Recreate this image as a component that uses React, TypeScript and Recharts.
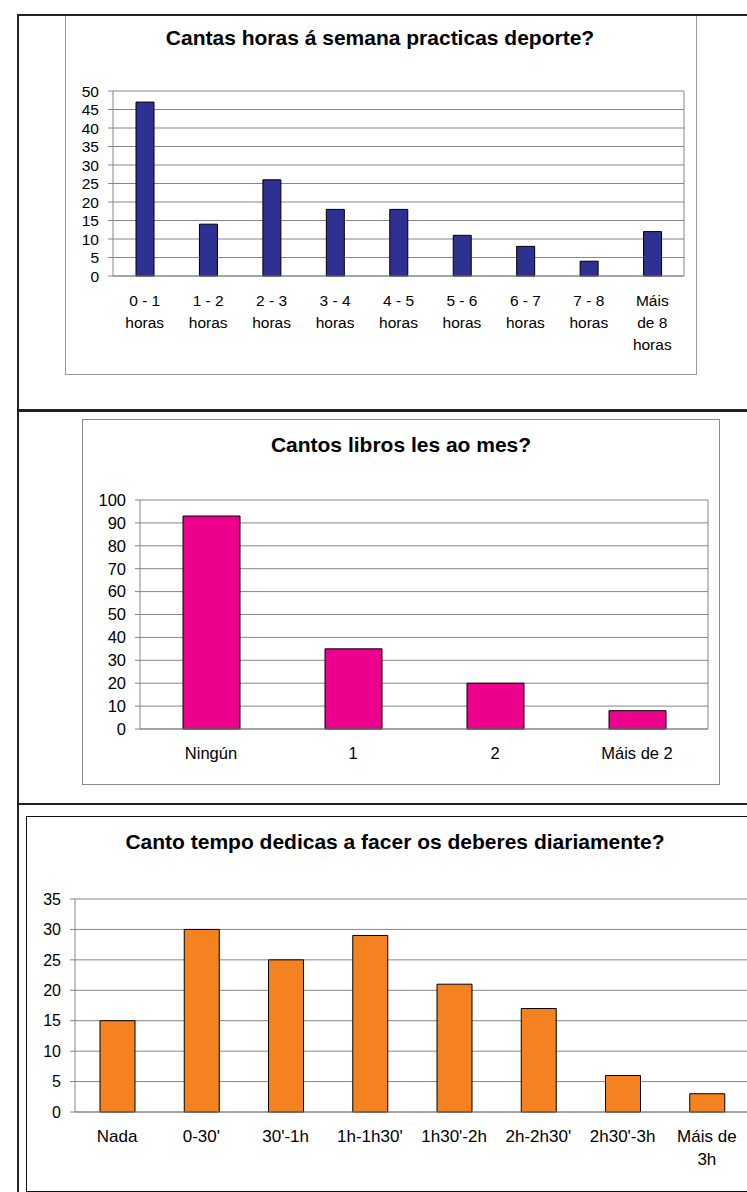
import React from "react";
import { BarChart, Bar, XAxis, YAxis, CartesianGrid } from "recharts";

// ---- Chart 1: sport hours per week
const sportCategories = [
  "0 - 1\nhoras",
  "1 - 2\nhoras",
  "2 - 3\nhoras",
  "3 - 4\nhoras",
  "4 - 5\nhoras",
  "5 - 6\nhoras",
  "6 - 7\nhoras",
  "7 - 8\nhoras",
  "Máis\nde 8\nhoras",
];
const sportValues = [47, 14, 26, 18, 18, 11, 8, 4, 12];
const sportTicks = [0, 5, 10, 15, 20, 25, 30, 35, 40, 45, 50];
const sportTitle = "Cantas horas á semana practicas deporte?";

// ---- Chart 2: books per month
const bookCategories = ["Ningún", "1", "2", "Máis de 2"];
const bookValues = [93, 35, 20, 8];
const bookTicks = [0, 10, 20, 30, 40, 50, 60, 70, 80, 90, 100];
const bookTitle = "Cantos libros les ao mes?";

// ---- Chart 3: homework time per day
const homeworkCategories = [
  "Nada",
  "0-30'",
  "30'-1h",
  "1h-1h30'",
  "1h30'-2h",
  "2h-2h30'",
  "2h30'-3h",
  "Máis de\n3h",
];
const homeworkValues = [15, 30, 25, 29, 21, 17, 6, 3];
const homeworkTicks = [0, 5, 10, 15, 20, 25, 30, 35];
const homeworkTitle = "Canto tempo dedicas a facer os deberes diariamente?";

const FONT = '"Liberation Sans", Arial, sans-serif';
const GRID = "#868686";

function CatTick(props: any) {
  const { x, y, payload, lineHeight, firstDy, fontSize } = props;
  const lines = String(payload.value).split("\n");
  return (
    <text x={x} y={y} textAnchor="middle" fontSize={fontSize} fill="#000" fontFamily={FONT}>
      {lines.map((l: string, i: number) => (
        <tspan key={i} x={x} dy={i === 0 ? firstDy : lineHeight}>
          {l}
        </tspan>
      ))}
    </text>
  );
}

type PanelProps = {
  categories: string[];
  values: number[];
  ticks: number[];
  color: string;
  width: number;
  height: number;
  margin: { top: number; right: number; bottom: number; left: number };
  yWidth: number;
  xHeight: number;
  barSize: number;
  lineHeight: number;
  rightBorder: boolean;
  xFont: number;
  yFont: number;
};

function Panel(p: PanelProps) {
  const data = p.categories.map((c, i) => ({ name: c, value: p.values[i], pos: i + 0.5 }));
  const bounds = p.categories.map((_, i) => i).concat([p.categories.length]);
  const max = p.ticks[p.ticks.length - 1];
  return (
    <BarChart width={p.width} height={p.height} data={data} margin={p.margin} barCategoryGap={0}>
      <CartesianGrid
        stroke={GRID}
        vertical={p.rightBorder}
        verticalCoordinatesGenerator={(args: any) => [args.offset.left + args.offset.width]}
      />
      <XAxis
        xAxisId="bounds"
        type="number"
        dataKey="pos"
        domain={[0, p.categories.length]}
        ticks={bounds}
        height={0}
        axisLine={false}
        tickLine={{ stroke: GRID }}
        tickSize={6}
        tickFormatter={() => ""}
        interval={0}
      />
      <XAxis
        xAxisId="cat"
        dataKey="name"
        height={p.xHeight}
        axisLine={{ stroke: GRID }}
        tickLine={false}
        tickSize={0}
        tickMargin={0}
        interval={0}
        tick={<CatTick lineHeight={p.lineHeight} firstDy={30} fontSize={p.xFont} />}
      />
      <YAxis
        domain={[0, max]}
        ticks={p.ticks}
        width={p.yWidth}
        axisLine={{ stroke: GRID }}
        tickLine={{ stroke: GRID }}
        tickSize={5}
        tickMargin={9}
        interval={0}
        tick={{ fontSize: p.yFont, fill: "#000", fontFamily: FONT }}
      />
      <Bar
        xAxisId="cat"
        dataKey="value"
        fill={p.color}
        stroke="#000"
        strokeWidth={1}
        barSize={p.barSize}
        isAnimationActive={false}
      />
    </BarChart>
  );
}

const abs = (s: React.CSSProperties): React.CSSProperties => ({ position: "absolute", ...s });

function Title({ text, cx, top }: { text: string; cx: number; top: number }) {
  return (
    <div
      style={abs({
        left: cx - 350,
        width: 700,
        top,
        textAlign: "center",
        fontFamily: FONT,
        fontWeight: "bold",
        fontSize: 21,
        lineHeight: "22px",
        color: "#000",
        whiteSpace: "nowrap",
      })}
    >
      {text}
    </div>
  );
}

export default function App() {
  return (
    <div
      style={abs({
        left: 0,
        top: 0,
        width: 747,
        height: 1192,
        overflow: "hidden",
        background: "#fff",
        fontFamily: FONT,
      })}
    >
      {/* chart frames */}
      <div style={abs({ left: 65, top: 14, width: 632, height: 361, border: "1px solid #9a9a9a", boxSizing: "border-box" })} />
      <div style={abs({ left: 82, top: 419, width: 638, height: 366, border: "1px solid #8a8a8a", boxSizing: "border-box" })} />
      <div style={abs({ left: 26, top: 816, width: 760, height: 376, border: "1.5px solid #111", boxSizing: "border-box" })} />

      {/* chart 1 */}
      <div style={abs({ left: 0, top: 0 })}>
        <Panel
          categories={sportCategories}
          values={sportValues}
          ticks={sportTicks}
          color="#2E3192"
          width={747}
          height={400}
          margin={{ top: 91, right: 63, bottom: 64, left: 0 }}
          yWidth={113}
          xHeight={60}
          barSize={18}
          lineHeight={22}
          rightBorder={true}
          xFont={15.5}
          yFont={15.5}
        />
      </div>
      <Title text={sportTitle} cx={380} top={27} />

      {/* chart 2 */}
      <div style={abs({ left: 0, top: 400 })}>
        <Panel
          categories={bookCategories}
          values={bookValues}
          ticks={bookTicks}
          color="#EC008C"
          width={747}
          height={400}
          margin={{ top: 100, right: 39, bottom: 21, left: 0 }}
          yWidth={140}
          xHeight={50}
          barSize={57}
          lineHeight={22}
          rightBorder={true}
          xFont={16.5}
          yFont={16.5}
        />
      </div>
      <Title text={bookTitle} cx={401} top={434} />

      {/* chart 3 */}
      <div style={abs({ left: 0, top: 800 })}>
        <Panel
          categories={homeworkCategories}
          values={homeworkValues}
          ticks={homeworkTicks}
          color="#F58220"
          width={760}
          height={392}
          margin={{ top: 99, right: 11, bottom: 20, left: 0 }}
          yWidth={75}
          xHeight={60}
          barSize={35}
          lineHeight={23}
          rightBorder={false}
          xFont={17}
          yFont={16}
        />
      </div>
      <Title text={homeworkTitle} cx={395} top={831} />

      {/* table lines */}
      <div style={abs({ left: 17, top: 14, width: 740, height: 2, background: "#222" })} />
      <div style={abs({ left: 17, top: 14, width: 2, height: 1180, background: "#222" })} />
      <div style={abs({ left: 17, top: 409, width: 740, height: 3, background: "#222" })} />
      <div style={abs({ left: 17, top: 803, width: 740, height: 2, background: "#222" })} />
    </div>
  );
}
